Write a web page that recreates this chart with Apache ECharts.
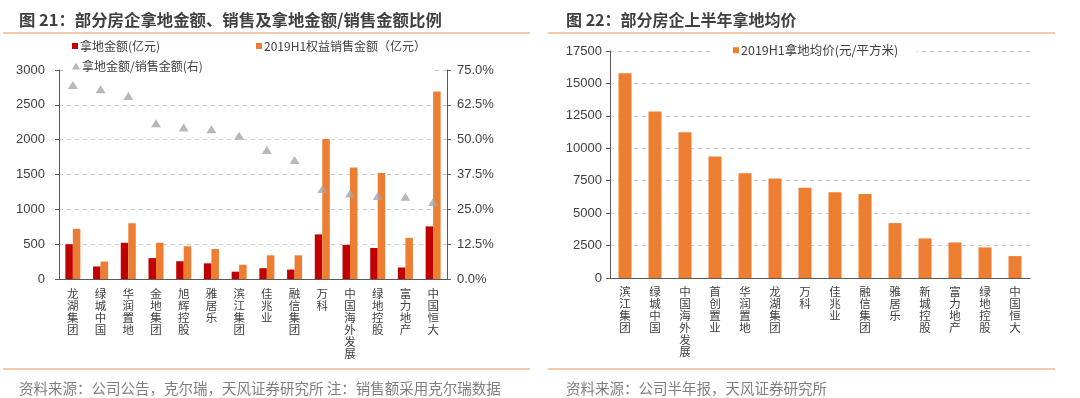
<!DOCTYPE html>
<html>
<head>
<meta charset="utf-8">
<script src="https://cdn.jsdelivr.net/npm/echarts/dist/echarts.min.js"></script>
<style>
  html, body { margin: 0; padding: 0; background: #fff; }
  #main { width: 1080px; height: 398px; }
</style>
</head>
<body>
<div id="main"></div>
<script>
// 图21 数据
var companies21 = ['龙湖集团', '绿城中国', '华润置地', '金地集团', '旭辉控股', '雅居乐', '滨江集团', '佳兆业', '融信集团', '万科', '中国海外发展', '绿地控股', '富力地产', '中国恒大'];
var landAmount = [500, 180, 520, 300, 255, 225, 105, 155, 135, 640, 490, 445, 165, 755];
var salesAmount = [720, 250, 800, 520, 470, 430, 205, 340, 340, 2010, 1600, 1520, 590, 2690];
var landSalesRatio = [0.696, 0.681, 0.657, 0.559, 0.544, 0.537, 0.514, 0.463, 0.427, 0.323, 0.307, 0.298, 0.295, 0.276];
var leftTicks = [0, 500, 1000, 1500, 2000, 2500, 3000];
var rightTicks = [0, 0.125, 0.25, 0.375, 0.5, 0.625, 0.75];

// 图22 数据
var companies22 = ['滨江集团', '绿城中国', '中国海外发展', '首创置业', '华润置地', '龙湖集团', '万科', '佳兆业', '融信集团', '雅居乐', '新城控股', '富力地产', '绿地控股', '中国恒大'];
var avgLandPrice = [15780, 12830, 11240, 9360, 8080, 7670, 6950, 6620, 6470, 4230, 3050, 2740, 2360, 1690];
var priceTicks = [0, 2500, 5000, 7500, 10000, 12500, 15000, 17500];

var numFont = 'Liberation Sans, Arial, Noto Sans CJK SC, sans-serif';
var cjkFont = 'Noto Sans CJK SC, sans-serif';
var axisColor = '#595959';
var textColor = '#404040';
var gridLineColor = '#cccccc';
var red = '#c00000';
var orange = '#ed7d31';
var grey = '#a6a6a6';

// 竖排文字：每个字一行
function vertical(v) {
    return v.split('').join('\n');
}
function plain(v) {
    return String(v);
}

var chart = echarts.init(document.getElementById('main'));

var option = {
    animation: false,
    backgroundColor: '#fff',
    textStyle: { fontFamily: cjkFont },
    title: [
        {
            text: '图 21：部分房企拿地金额、销售及拿地金额/销售金额比例',
            left: 14, top: 7,
            textStyle: { fontSize: 16.4, fontWeight: 'bold', color: textColor, fontFamily: cjkFont }
        },
        {
            text: '图 22：部分房企上半年拿地均价',
            left: 561, top: 7,
            textStyle: { fontSize: 16, fontWeight: 'bold', color: textColor, fontFamily: cjkFont }
        },
        {
            text: '资料来源：公司公告，克尔瑞，天风证券研究所 注：销售额采用克尔瑞数据',
            left: 14, top: 376,
            textStyle: { fontSize: 14.5, fontWeight: 'normal', color: '#7f7f7f', fontFamily: cjkFont }
        },
        {
            text: '资料来源：公司半年报，天风证券研究所',
            left: 561, top: 376,
            textStyle: { fontSize: 14.5, fontWeight: 'normal', color: '#7f7f7f', fontFamily: cjkFont }
        }
    ],
    graphic: [
        { type: 'line', shape: { x1: 3, y1: 33, x2: 530, y2: 33 }, style: { stroke: '#f1b98e', lineWidth: 1.5 } },
        { type: 'line', shape: { x1: 548, y1: 33, x2: 1055, y2: 33 }, style: { stroke: '#f1b98e', lineWidth: 1.5 } },
        { type: 'line', shape: { x1: 3, y1: 369, x2: 530, y2: 369 }, style: { stroke: '#f1b98e', lineWidth: 1.5 } },
        { type: 'line', shape: { x1: 548, y1: 369, x2: 1055, y2: 369 }, style: { stroke: '#f1b98e', lineWidth: 1.5 } }
    ],
    legend: [
        {
            data: ['拿地金额(亿元)'], left: 72, top: 40, padding: 0,
            itemWidth: 6, itemHeight: 6, icon: 'rect',
            textStyle: { fontSize: 12, color: textColor, padding: [0, 0, 0, -3] }
        },
        {
            data: ['2019H1权益销售金额（亿元）'], left: 256, top: 40, padding: 0,
            itemWidth: 6, itemHeight: 6, icon: 'rect',
            textStyle: { fontSize: 12, color: textColor, padding: [0, 0, 0, -3] }
        },
        {
            data: ['拿地金额/销售金额(右)'], left: 67, top: 58, padding: [2, 228, 3, 5],
            backgroundColor: '#fff',
            itemWidth: 8, itemHeight: 7, icon: 'triangle',
            textStyle: { fontSize: 12, color: textColor, padding: [0, 0, 0, -3] }
        },
        {
            data: ['2019H1拿地均价(元/平方米)'], left: 713, top: 44, padding: [0, 18, 0, 20],
            backgroundColor: '#fff',
            itemWidth: 6, itemHeight: 6, icon: 'rect',
            textStyle: { fontSize: 12.5, color: textColor, padding: [0, 0, 0, -3] }
        }
    ],
    grid: [
        { left: 59, right: 633, top: 70, bottom: 119 },
        { left: 610, right: 50, top: 51, bottom: 120 }
    ],
    xAxis: [
        {
            type: 'category', gridIndex: 0, data: companies21,
            axisLine: { lineStyle: { color: axisColor } },
            axisTick: { length: 4, lineStyle: { color: axisColor } },
            axisLabel: {
                interval: 0, margin: 9, fontSize: 11.5, lineHeight: 12, color: textColor,
                formatter: vertical
            }
        },
        {
            type: 'category', gridIndex: 1, data: companies22,
            axisLine: { lineStyle: { color: axisColor } },
            axisTick: { length: 4, lineStyle: { color: axisColor } },
            axisLabel: {
                interval: 0, margin: 8, fontSize: 11.5, lineHeight: 12, color: textColor,
                formatter: vertical
            }
        }
    ],
    yAxis: [
        {
            type: 'value', gridIndex: 0,
            min: leftTicks[0], max: leftTicks[leftTicks.length - 1], interval: leftTicks[1] - leftTicks[0],
            axisLine: { show: true, lineStyle: { color: axisColor } },
            axisTick: { show: true, length: 4, lineStyle: { color: axisColor } },
            axisLabel: { margin: 14, fontSize: 13, color: textColor, fontFamily: numFont, formatter: plain },
            splitLine: { show: true, showMaxLine: true, lineStyle: { color: gridLineColor, type: [4, 4] } }
        },
        {
            type: 'value', gridIndex: 0, position: 'right',
            min: rightTicks[0], max: rightTicks[rightTicks.length - 1], interval: rightTicks[1] - rightTicks[0],
            axisLine: { show: true, lineStyle: { color: axisColor } },
            axisTick: { show: true, length: 4, lineStyle: { color: axisColor } },
            axisLabel: {
                margin: 10, fontSize: 13, color: textColor, fontFamily: numFont,
                formatter: function (v) { return (v * 100).toFixed(1) + '%'; }
            },
            splitLine: { show: false }
        },
        {
            type: 'value', gridIndex: 1,
            min: priceTicks[0], max: priceTicks[priceTicks.length - 1], interval: priceTicks[1] - priceTicks[0],
            axisLine: { show: true, lineStyle: { color: axisColor } },
            axisTick: { show: true, length: 4, lineStyle: { color: axisColor } },
            axisLabel: { margin: 8, fontSize: 13, color: textColor, fontFamily: numFont, formatter: plain },
            splitLine: { show: true, showMaxLine: true, lineStyle: { color: gridLineColor, type: [4, 4] } }
        }
    ],
    series: [
        {
            name: '拿地金额(亿元)', type: 'bar', xAxisIndex: 0, yAxisIndex: 0,
            data: landAmount, barWidth: 7.5, barGap: '0%',
            itemStyle: { color: red }
        },
        {
            name: '2019H1权益销售金额（亿元）', type: 'bar', xAxisIndex: 0, yAxisIndex: 0,
            data: salesAmount, barWidth: 7.5, barGap: '0%',
            itemStyle: { color: orange }
        },
        {
            name: '拿地金额/销售金额(右)', type: 'scatter', xAxisIndex: 0, yAxisIndex: 1,
            data: landSalesRatio, symbol: 'triangle', symbolSize: [10, 8],
            itemStyle: { color: grey }
        },
        {
            name: '2019H1拿地均价(元/平方米)', type: 'bar', xAxisIndex: 1, yAxisIndex: 2,
            data: avgLandPrice, barWidth: 13,
            itemStyle: { color: orange }
        }
    ]
};

chart.setOption(option);
</script>
</body>
</html>
